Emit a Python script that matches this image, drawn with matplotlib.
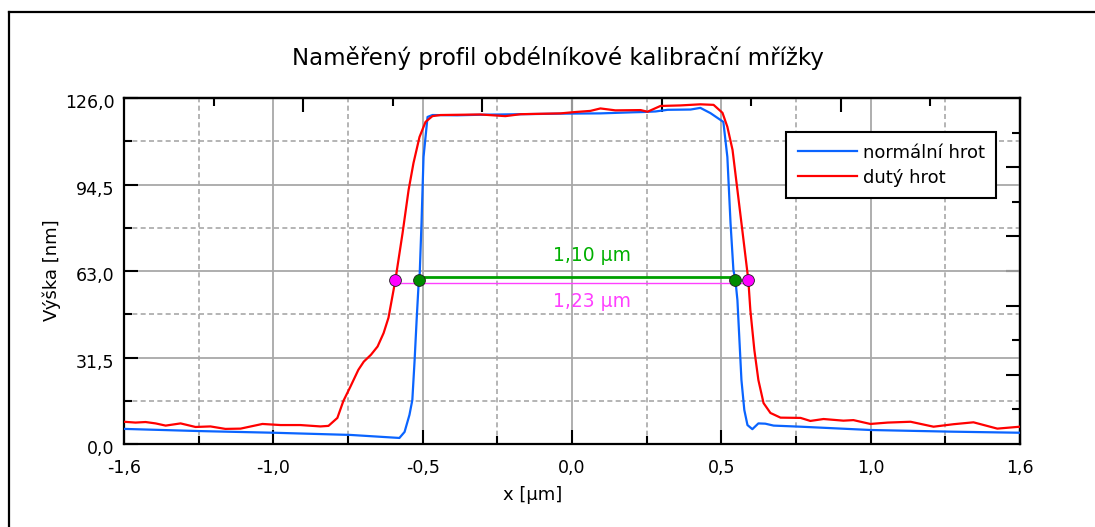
import matplotlib
matplotlib.use('Agg')
import matplotlib.pyplot as plt
import matplotlib.transforms as mtransforms
from matplotlib.lines import Line2D
import numpy as np

plt.rcParams['font.family'] = ['DejaVu Sans']

# x axis runs -1.56 .. 1.56 um, labels are rounded to one decimal
x_ticks = [-1.56, -1.04, -0.52, 0.0, 0.52, 1.04, 1.56]
x_tick_labels = ['-1,6', '-1,0', '-0,5', '0,0', '0,5', '1,0', '1,6']
y_ticks = [0.0, 31.5, 63.0, 94.5, 126.0]
y_tick_labels = ['0,0', '31,5', '63,0', '94,5', '126,0']

# normalni hrot (blue)
blue_x = [-1.56, -1.294, -1.039, -0.771, -0.601, -0.583, -0.566, -0.556, -0.548,
          -0.541, -0.534, -0.531, -0.524, -0.517, -0.503, -0.486, -0.40, -0.319,
          -0.179, -0.040, 0.099, 0.214, 0.249, 0.291, 0.333, 0.413, 0.447, 0.482,
          0.527, 0.541, 0.552, 0.562, 0.569, 0.576, 0.590, 0.600, 0.611, 0.628,
          0.649, 0.673, 0.702, 0.796, 1.039, 1.318, 1.56]
blue_y = [5.5, 4.7, 4.1, 3.3, 2.2, 4.4, 10.6, 16.0, 30.6,
          45.2, 58.6, 59.9, 80.5, 104.5, 119.1, 119.8, 119.7, 119.9,
          120.1, 120.3, 120.4, 120.8, 120.9, 121.1, 121.7, 121.8, 122.4, 120.5,
          117.3, 104.5, 80.5, 63.4, 59.7, 52.4, 23.3, 12.4, 6.9, 5.4,
          7.5, 7.4, 6.7, 6.3, 5.1, 4.5, 4.1]

# duty hrot (red)
red_x = [-1.56, -1.520, -1.485, -1.450, -1.415, -1.363, -1.311, -1.259, -1.207,
         -1.154, -1.078, -1.015, -0.946, -0.876, -0.848, -0.817, -0.796, -0.772,
         -0.744, -0.725, -0.700, -0.677, -0.656, -0.639, -0.615, -0.590, -0.569,
         -0.552, -0.531, -0.510, -0.486, -0.458, -0.319, -0.232, -0.179, -0.040,
         0.012, 0.064, 0.099, 0.151, 0.239, 0.263, 0.308, 0.378, 0.447, 0.493,
         0.524, 0.541, 0.559, 0.576, 0.593, 0.614, 0.621, 0.635, 0.649, 0.667,
         0.691, 0.726, 0.796, 0.830, 0.876, 0.945, 0.980, 1.039, 1.099, 1.179,
         1.259, 1.328, 1.398, 1.481, 1.56]
red_y = [8.1, 7.8, 8.0, 7.5, 6.7, 7.5, 6.2, 6.4, 5.5,
         5.6, 7.3, 6.9, 6.9, 6.4, 6.6, 9.5, 15.7, 20.8,
         27.0, 30.0, 32.5, 35.5, 40.4, 46.0, 59.7, 76.8, 92.5,
         102.3, 111.8, 117.3, 119.4, 119.8, 120.0, 119.4, 120.1, 120.4,
         120.9, 121.3, 122.2, 121.5, 121.6, 121.0, 123.1, 123.3, 123.7, 123.5,
         120.6, 115.5, 107.1, 92.5, 77.9, 59.7, 48.8, 34.2, 23.3, 14.9,
         11.3, 9.6, 9.5, 8.4, 9.1, 8.5, 8.7, 7.3, 7.8, 8.1,
         6.3, 7.2, 7.9, 5.6, 6.3]

# width measurements
green_x = [-0.533, 0.568]
green_line_y = 60.9
green_mark_y = 59.7
magenta_x = [-0.616, 0.613]
magenta_line_y = 58.7
magenta_mark_y = 59.7

fig = plt.figure(figsize=(10.95, 5.27), dpi=100)
ax = fig.add_axes([124 / 1095, 1 - 444 / 527, 896 / 1095, 346 / 527])

grid_col = '#a8a8a8'
ax.set_xlim(-1.56, 1.56)
ax.set_ylim(0, 126)
ax.set_xticks(x_ticks)
ax.set_xticklabels(x_tick_labels)
ax.set_yticks(y_ticks)
ax.set_yticklabels(y_tick_labels)
ax.set_xticks([-1.30, -0.78, -0.26, 0.26, 0.78, 1.30], minor=True)
ax.set_yticks([15.75, 47.25, 78.75, 110.25], minor=True)
ax.grid(which='major', color=grid_col, linewidth=1.3, linestyle='-')
ax.grid(which='minor', color=grid_col, linewidth=1.2, linestyle=(0, (3, 2)))
ax.set_axisbelow(True)
ax.tick_params(which='major', direction='in', length=10, width=1.5,
               top=False, right=False, labelsize=12.5, colors='black')
ax.tick_params(which='minor', direction='in', length=6, width=1.5,
               top=False, right=False)
ax.tick_params(axis='x', pad=11)
ax.tick_params(axis='y', pad=7)
for s in ax.spines.values():
    s.set_linewidth(1.6)
    s.set_color('black')

# y tick labels sit a little below their ticks in the original
shift = mtransforms.ScaledTranslation(0, -3 / 100, fig.dpi_scale_trans)
for lab in ax.get_yticklabels():
    lab.set_transform(lab.get_transform() + shift)

# extra ticks on top and right (10 divisions)
top = ax.secondary_xaxis('top', functions=(lambda v: (v + 1.56) / 0.312,
                                           lambda k: k * 0.312 - 1.56))
top.set_xticks([2, 4, 5, 6, 8])
top.set_xticks([1, 3, 7, 9], minor=True)
top.tick_params(which='major', direction='in', length=10, width=1.5, labeltop=False)
top.tick_params(which='minor', direction='in', length=6, width=1.5)
top.spines['top'].set_linewidth(1.6)
right = ax.secondary_yaxis('right', functions=(lambda v: v / 12.6,
                                               lambda k: k * 12.6))
right.set_yticks([2, 4, 5, 6, 8])
right.set_yticks([1, 3, 7, 9], minor=True)
right.tick_params(which='major', direction='in', length=10, width=1.5, labelright=False)
right.tick_params(which='minor', direction='in', length=6, width=1.5)
right.spines['right'].set_linewidth(1.6)

ax.plot(blue_x, blue_y, color='#0a64ff', linewidth=1.6, label='normální hrot', zorder=3)
ax.plot(red_x, red_y, color='#ff0000', linewidth=1.6, label='dutý hrot', zorder=3)

ax.plot(magenta_x, [magenta_line_y] * 2, color='#ff40ff', linewidth=1.0, zorder=4)
ax.plot(green_x, [green_line_y] * 2, color='#00a000', linewidth=2.0, zorder=4)
ax.plot(magenta_x, [magenta_mark_y] * 2, linestyle='none', marker='o', markersize=8.5,
        markerfacecolor='#ff00ff', markeredgecolor='#202020', markeredgewidth=0.6, zorder=5)
ax.plot(green_x, [green_mark_y] * 2, linestyle='none', marker='o', markersize=8.5,
        markerfacecolor='#008c00', markeredgecolor='#202020', markeredgewidth=0.6, zorder=5)
ax.text(0.07, 68.5, '1,10 µm', color='#00b000', fontsize=13.5, ha='center', va='center')
ax.text(0.07, 52.0, '1,23 µm', color='#ff40ff', fontsize=13.5, ha='center', va='center')

leg = ax.legend(loc='upper left', bbox_to_anchor=(786 / 1095, 1 - 132 / 527),
                bbox_transform=fig.transFigure, borderaxespad=0, fancybox=False,
                edgecolor='black', framealpha=1, fontsize=13, handlelength=3.3,
                handletextpad=0.3, labelspacing=0.38, borderpad=0.65)
leg.get_frame().set_linewidth(1.5)

fig.text(558 / 1095, 1 - 58 / 527, 'Naměřený profil obdélníkové kalibrační mřížky',
         fontsize=16.5, ha='center', va='center')
ax.set_xlabel('x [µm]', fontsize=13)
ax.xaxis.set_label_coords((533 - 124) / 896, (444 - 495) / 346)
ax.xaxis.label.set_va('center')
ax.set_ylabel('Výška [nm]', fontsize=13)
ax.yaxis.set_label_coords((52 - 124) / 896, (444 - 270) / 346)
ax.yaxis.label.set_va('center')

# outer frame (left and top edge visible)
fig.add_artist(Line2D([9 / 1095, 9 / 1095], [0, 1 - 12 / 527], color='black', linewidth=1.6))
fig.add_artist(Line2D([9 / 1095, 1], [1 - 12 / 527, 1 - 12 / 527], color='black', linewidth=1.6))

fig.savefig('out.png', dpi=100)
